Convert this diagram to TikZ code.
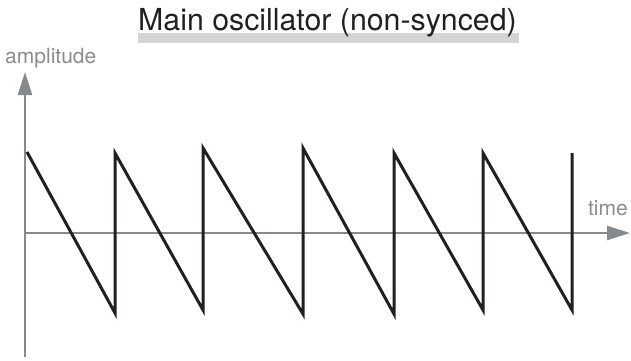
\documentclass[tikz,border=0pt]{standalone}
\usepackage{fontspec}
\setmainfont{TeX Gyre Heros}
\usetikzlibrary{arrows.meta}
\definecolor{axisgray}{HTML}{858A8E}
\definecolor{labelgray}{HTML}{8C8C8C}
\definecolor{bargray}{HTML}{D4D4D4}
\definecolor{wavecol}{HTML}{231F20}

\begin{document}
\begin{tikzpicture}[
  x=1pt, y=-1pt,
  >={Triangle[length=23pt,width=14pt]},
  % Styles
  axis/.style={->, draw=axisgray, line width=2.5pt},
  wave/.style={draw=wavecol, line width=3pt, line join=miter},
  axislabel/.style={text=labelgray, inner sep=0pt, font=\fontsize{21}{24}\selectfont},
  title/.style={text=wavecol, inner sep=0pt, font=\fontsize{30.3}{34}\selectfont},
]
\useasboundingbox (0,0) rectangle (631,360);

% === Title with bar ===
\fill[bargray] (138,33) rectangle (519,43);
\node[title, anchor=base west] (title) at (138,30) {Main oscillator (non-synced)};

% === Axes ===
\coordinate (origin) at (25,233);
\coordinate (ybottom) at (25,357);
\coordinate (ytip) at (25,72);
\coordinate (xtip) at (630,233);
\draw[axis] (ybottom) -- (ytip);
\draw[axis] (origin) -- (xtip);
\node[axislabel, anchor=base west] (amp) at (5,63) {amplitude};
\node[axislabel, anchor=base east] (time) at (628,215) {time};

% === Sawtooth ===
\draw[wave] (27,152) -- (115,313) -- (115,153) -- (203,310) -- (203,148)
  -- (303,314) -- (303,148) -- (394,314) -- (394,153) -- (483,310)
  -- (483,153) -- (572,310) -- (572,153);

\end{tikzpicture}
\end{document}
